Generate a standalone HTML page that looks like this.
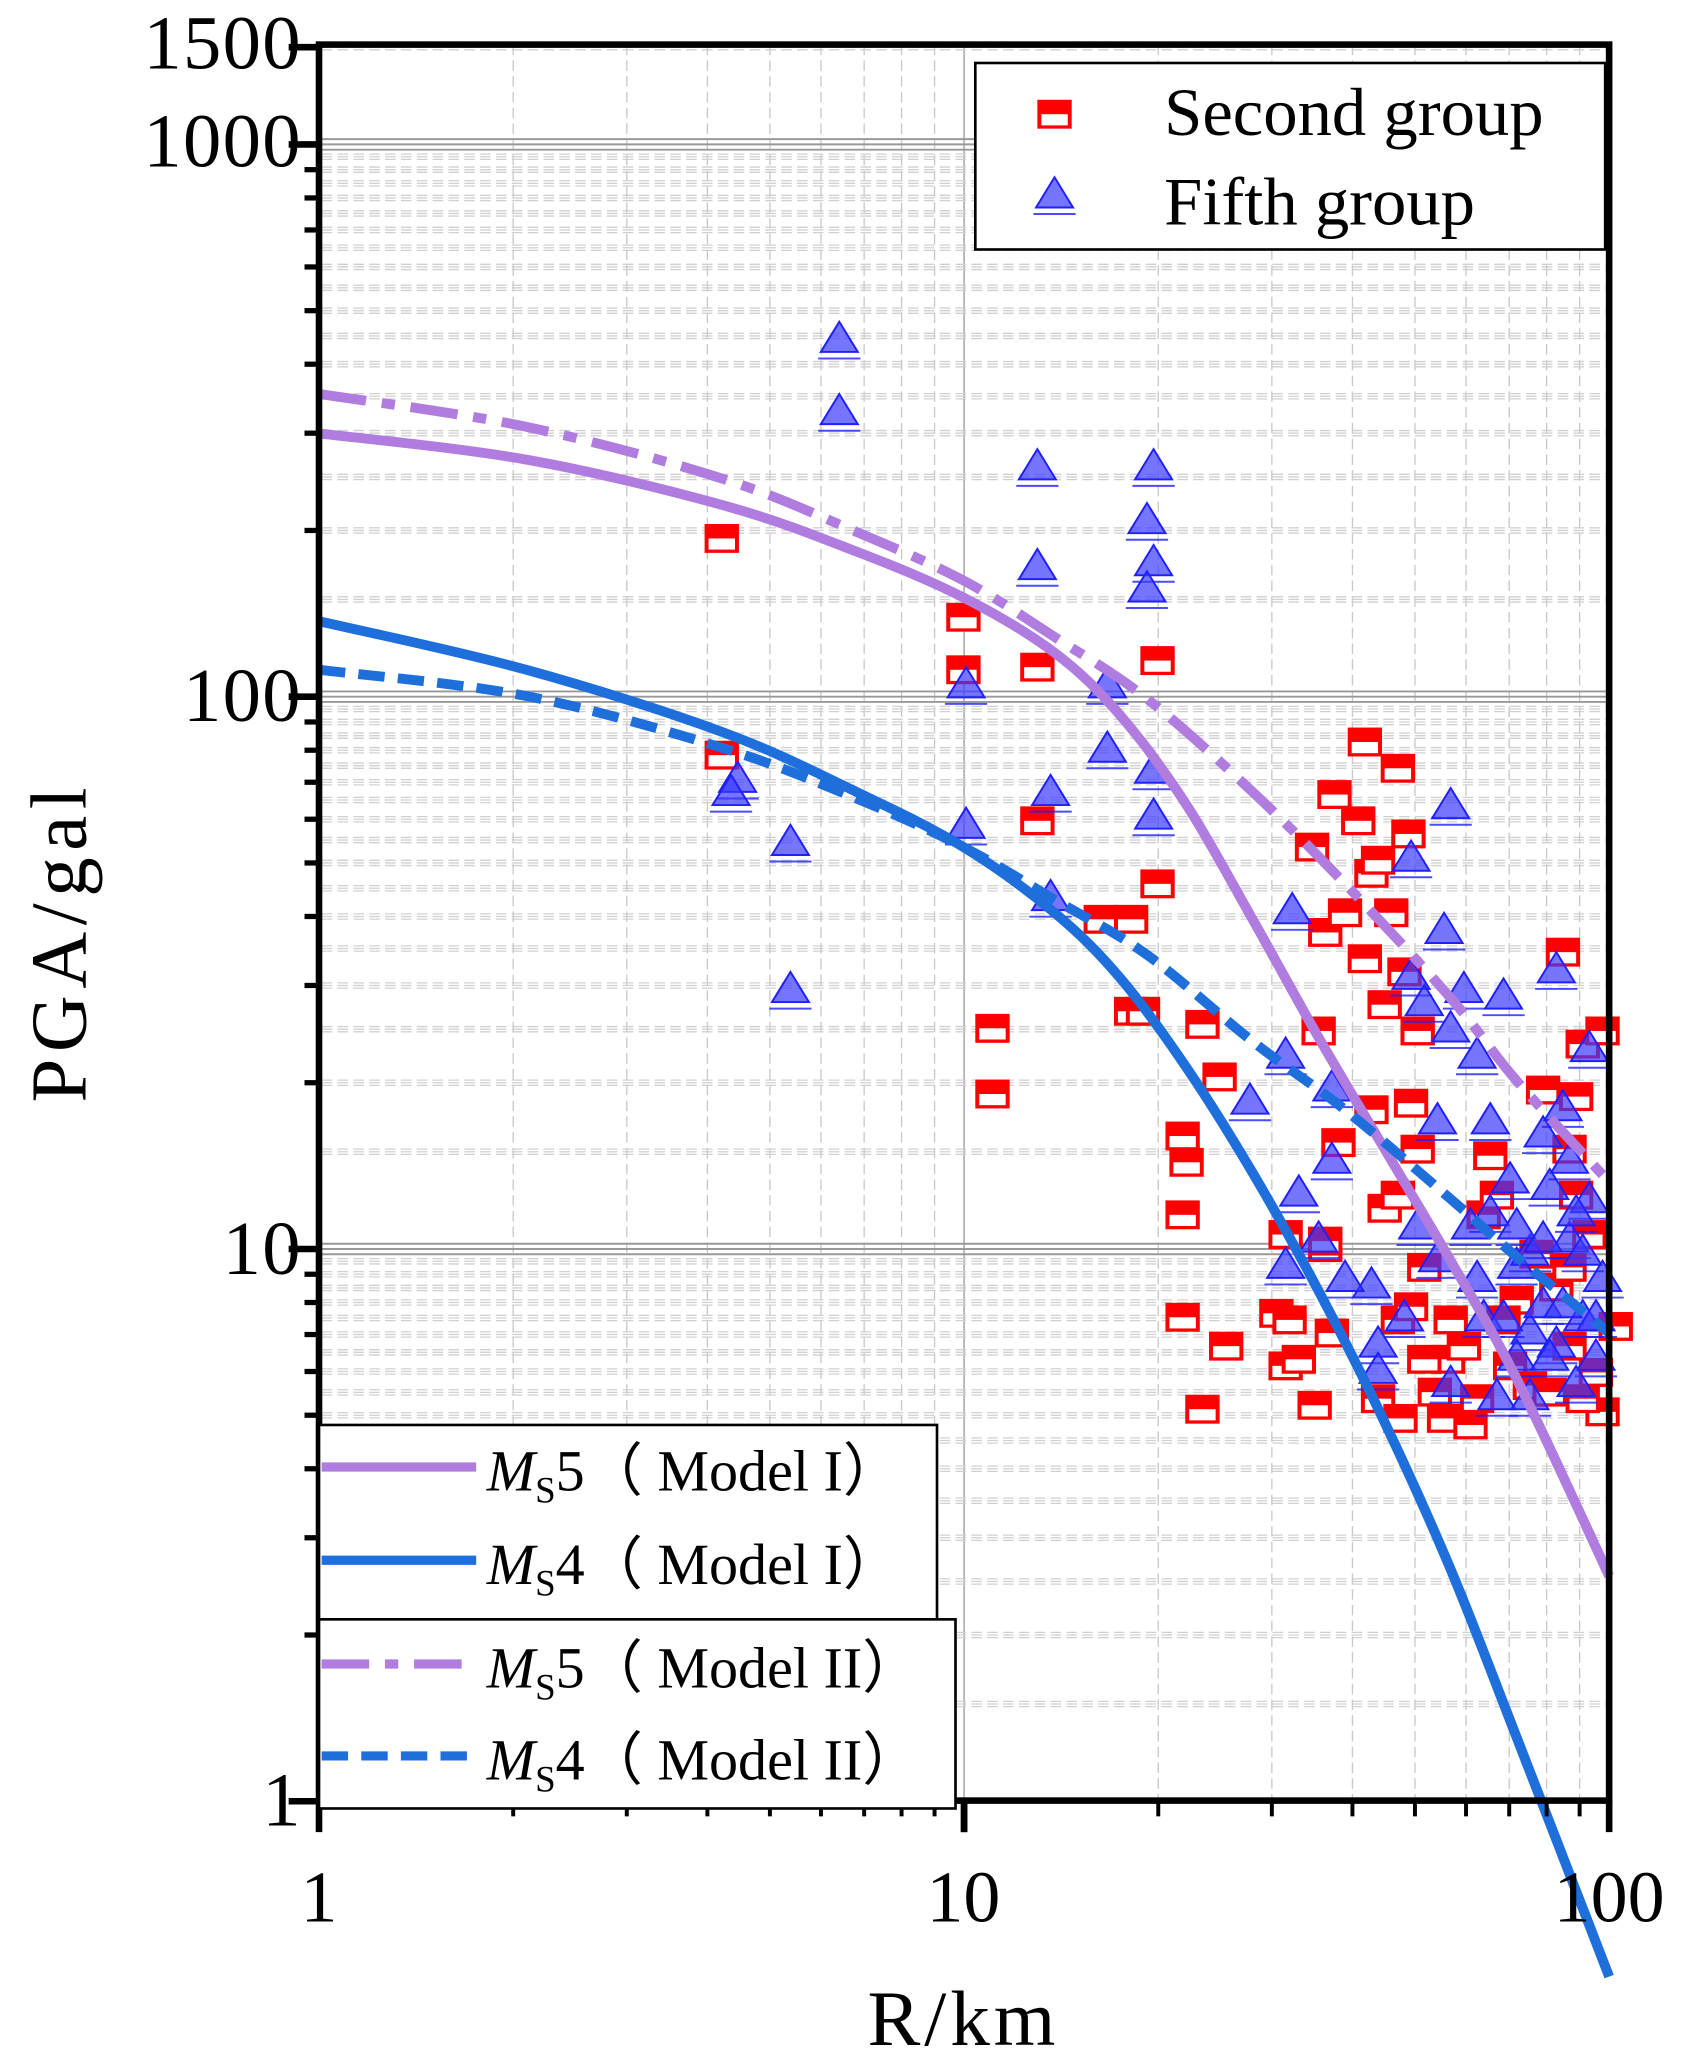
<!DOCTYPE html>
<html><head><meta charset="utf-8"><style>html,body{margin:0;padding:0;background:#fff}svg{display:block}</style></head>
<body>
<svg width="1688" height="2066" viewBox="0 0 1270 1554" preserveAspectRatio="none" xmlns="http://www.w3.org/2000/svg" font-family="'Liberation Serif',serif">
<defs>
<g id="sq"><rect x="-13" y="-11" width="26" height="22" fill="#f00"/><rect x="-10" y="0" width="20" height="8.5" fill="#fff"/></g>
<g id="tr"><path d="M0,-15 L14,8 L-14,8 Z" fill="#3a3aff" fill-opacity="0.7" stroke="#2020ff" stroke-width="1.5"/><line x1="-16" y1="13" x2="16" y2="13" stroke="#2020ff" stroke-width="1.5" opacity="0.8"/></g>
</defs>
<g id="root" transform="translate(-1.4,4.9) scale(0.9935,0.9879)">
<g id="grid" stroke="#c8c8c8" stroke-width="1"></g>
<g id="data"></g>
<g id="axes" stroke="#000" fill="none"></g>
<g font-size="58" fill="#000" text-anchor="end" letter-spacing="1">
<text x="230" y="47">1500</text><text x="230" y="122">1000</text><text x="230" y="544">100</text><text x="230" y="965">10</text><text x="230" y="1385">1</text>
</g>
<g font-size="56" fill="#000" text-anchor="middle">
<text x="243" y="1458">1</text><text x="731" y="1458">10</text><text x="1220" y="1458">100</text>
<text x="731" y="1552" font-size="60" letter-spacing="3">R/km</text>
</g>
<text transform="translate(66,712) rotate(-90)" font-size="60" letter-spacing="5" text-anchor="middle">PGA/gal</text>
<rect x="740" y="43" width="477" height="142" fill="#fff" stroke="#000" stroke-width="2"/>
<use href="#sq" x="800" y="82"/><use href="#tr" x="800" y="145"/>
<text x="883" y="98" font-size="52">Second group</text><text x="883" y="166" font-size="52">Fifth group</text>
<rect x="243" y="1080" width="468" height="148" fill="#fff" stroke="#000" stroke-width="2"/>
<rect x="243" y="1228" width="482" height="144" fill="#fff" stroke="#000" stroke-width="2"/>
<line x1="245" y1="1112" x2="362" y2="1112" stroke="#b07ce0" stroke-width="7"/>
<line x1="245" y1="1183" x2="362" y2="1183" stroke="#1e6fdc" stroke-width="7"/>
<line x1="245" y1="1262" x2="362" y2="1262" stroke="#b07ce0" stroke-width="7" stroke-dasharray="36 12 10 12"/>
<line x1="245" y1="1332" x2="362" y2="1332" stroke="#1e6fdc" stroke-width="7" stroke-dasharray="20 10"/>
<g font-size="44">
<text x="370" y="1130"><tspan font-style="italic">M</tspan><tspan font-size="28" dy="9">S</tspan><tspan dy="-9">5（ Model I）</tspan></text>
<text x="370" y="1201"><tspan font-style="italic">M</tspan><tspan font-size="28" dy="9">S</tspan><tspan dy="-9">4（ Model I）</tspan></text>
<text x="370" y="1280"><tspan font-style="italic">M</tspan><tspan font-size="28" dy="9">S</tspan><tspan dy="-9">5（ Model II）</tspan></text>
<text x="370" y="1350"><tspan font-style="italic">M</tspan><tspan font-size="28" dy="9">S</tspan><tspan dy="-9">4（ Model II）</tspan></text>
</g>
</g>
</svg>
<script>
(function(){
var NS="http://www.w3.org/2000/svg";
function X(r){return 243+488.5*Math.log(r)/Math.LN10;}
function Y(v){return 946-420.5*Math.log(v/10)/Math.LN10;}
function el(t,at,par){var e=document.createElementNS(NS,t);for(var k in at){if(k==='href'){e.setAttribute('href',at[k]);e.setAttributeNS('http://www.w3.org/1999/xlink','xlink:href',at[k]);}else e.setAttribute(k,at[k]);}par.appendChild(e);return e;}
var G=document.querySelector('#grid'),D=document.querySelector('#data'),A=document.querySelector('#axes');
var i,j,m,x,y,v,dd;
for(dd=1;dd<=10;dd*=10)for(m=2;m<=9;m++){x=X(dd*m);el('line',{x1:x,y1:29,x2:x,y2:1366,'stroke-dasharray':'8 4'},G);}
el('line',{x1:X(10),y1:29,x2:X(10),y2:1366,stroke:'#999'},G);
for(dd=1;dd<=1000;dd*=10)for(m=1.5;m<10;m+=0.5){v=dd*m;if(v>1500)break;y=Y(v);for(j=-2;j<=2;j+=2)el('line',{x1:245,y1:y+j,x2:1218,y2:y+j,'stroke-dasharray':'8 4',stroke:'#d0d0d0'},G);}
[10,100,1000].forEach(function(v){var y=Y(v);for(var j=-4;j<=4;j+=4)el('line',{x1:245,y1:y+j,x2:1218,y2:y+j,stroke:'#999','stroke-width':1.5},G);});
function path(p,c,dash){var d='M'+p[0][0]+','+p[0][1];for(var i=0;i<p.length-1;i++){var p0=p[i>0?i-1:i],p1=p[i],p2=p[i+1],p3=p[(i+2<p.length)?i+2:i+1];d+=' C'+(p1[0]+(p2[0]-p0[0])/6)+','+(p1[1]+(p2[1]-p0[1])/6)+' '+(p2[0]-(p3[0]-p1[0])/6)+','+(p2[1]-(p3[1]-p1[1])/6)+' '+p2[0]+','+p2[1];}var o={d:d,stroke:c,'stroke-width':7.5,fill:'none'};if(dash)o['stroke-dasharray']=dash;el('path',o,D);}
var R=[[548,405],[548,570],[731,465],[731,505],[787,503],[878,498],[753,778],[753,828],[787,620],[878,668],[858,695],[858,765],[835,695],[867,765],[897,920],[897,860],[925,815],[912,775],[900,880],[912,1068],[930,1020],[897,998],[975,935],[968,995],[975,1035],[997,1065],[1000,780],[995,640],[1005,705],[1015,865],[1005,945],[1030,620],[1035,560],[1045,1060],[1060,580],[1068,630],[1055,690],[1065,735],[1040,660],[1035,725],[1050,760],[1040,840],[1050,915],[1060,1000],[1062,1075],[1070,835],[1075,780],[1060,905],[1080,960],[1088,1055],[1095,1075],[1098,1030],[1100,1000],[1115,1080],[1110,1020],[1125,920],[1130,875],[1145,1035],[1150,985],[1160,1050],[1165,950],[1170,825],[1185,720],[1190,870],[1195,830],[1200,790],[1195,905],[1205,935],[1215,1070],[1210,1040],[1225,1005],[1215,780],[1180,975],[1175,1055],[978,1000],[985,1030],[1005,940],[1135,905],[1140,1000],[1200,1060],[1190,1020],[1190,960],[1020,690],[1045,650],[1012,600],[1075,870],[1070,990],[1080,1030],[1120,1060],[1010,1010]];
var T=[[637,255],[637,310],[787,352],[875,352],[870,393],[875,425],[870,445],[787,428],[733,518],[733,625],[840,518],[840,567],[875,583],[875,618],[560,590],[555,600],[600,638],[600,750],[797,600],[797,680],[948,835],[980,690],[975,800],[1010,825],[1010,880],[1040,975],[1045,1020],[1045,1040],[1070,650],[1070,740],[1080,760],[1100,610],[1095,705],[1100,780],[1090,850],[1090,955],[1100,1050],[1110,750],[1120,800],[1130,850],[1140,755],[1145,895],[1150,960],[1160,1010],[1170,860],[1175,900],[1180,735],[1185,840],[1190,880],[1190,940],[1200,1000],[1205,910],[1210,1030],[1205,795],[1215,970],[1150,1030],[1125,1000],[1135,1060],[975,960],[985,905],[1000,940],[1020,970],[1065,1000],[1075,930],[1115,930],[1130,920],[1160,950],[1170,990],[1180,1020],[1195,1050],[1160,1060],[1150,930],[1170,940],[1185,990],[1200,950],[1210,1000],[1140,1000],[1120,970],[1175,1030],[1195,920]];
for(i=0;i<R.length;i++)el('use',{href:'#sq',x:R[i][0],y:R[i][1]},D);
for(i=0;i<T.length;i++)el('use',{href:'#tr',x:T[i][0],y:T[i][1]},D);
path([[243,325],[400,345],[550,380],[650,415],[731,450],[800,492],[850,540],[900,608],[950,695],[1000,785],[1050,870],[1100,955],[1150,1045],[1220,1195]],'#b07ce0');
path([[243,295],[400,320],[550,360],[650,400],[731,437],[800,480],[870,527],[950,598],[1020,668],[1100,755],[1150,818],[1220,895]],'#b07ce0','36 12 10 12');
path([[243,468],[400,505],[550,553],[650,598],[731,640],[800,690],[850,740],[900,808],[950,888],[1000,978],[1050,1078],[1100,1190],[1150,1318],[1220,1500]],'#1e6fdc');
path([[243,505],[400,525],[550,565],[650,603],[731,640],[800,680],[870,722],[950,788],[1020,840],[1100,908],[1150,952],[1220,1010]],'#1e6fdc','20 10');
el('rect',{x:243,y:29,width:977,height:1337,'stroke-width':5},A);
for(dd=1;dd<=1000;dd*=10)for(m=1;m<10;m++){v=dd*m;if(v>1500)break;y=Y(v);el('line',{x1:(m==1)?220:232,y1:y,x2:243,y2:y,'stroke-width':(m==1)?5:4},A);}
el('line',{x1:220,y1:Y(1500),x2:243,y2:Y(1500),'stroke-width':5},A);
for(dd=1;dd<=10;dd*=10)for(m=1;m<=10;m++){x=X(dd*m);var mj=(m==1||m==10);el('line',{x1:x,y1:1366,x2:x,y2:mj?1390:1378,'stroke-width':mj?5:3},A);}
})();
</script>
</body></html>
